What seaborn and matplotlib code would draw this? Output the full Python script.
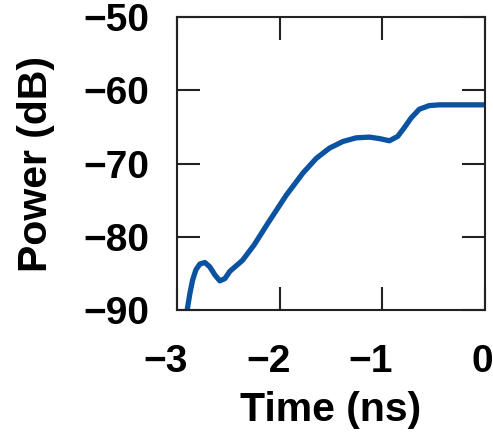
import matplotlib.transforms as mtransforms
import pandas as pd
import seaborn as sns
from matplotlib import pyplot as plt

# values
time_ns = [-2.900, -2.874, -2.848, -2.816, -2.777, -2.728, -2.680, -2.631,
           -2.583, -2.534, -2.485, -2.362, -2.249, -2.113, -1.935, -1.774,
           -1.644, -1.515, -1.385, -1.256, -1.126, -1.029, -0.932, -0.851,
           -0.786, -0.721, -0.641, -0.544, -0.447, -0.300, -0.150, 0.0]
power_db = [-89.9, -87.7, -85.9, -84.5, -83.7, -83.5, -84.1, -85.2,
            -86.0, -85.7, -84.7, -83.2, -81.1, -78.1, -74.3, -71.3,
            -69.3, -67.9, -67.0, -66.5, -66.4, -66.6, -66.9, -66.3,
            -65.1, -63.8, -62.6, -62.1, -62.0, -62.0, -62.0, -62.0]

x_ticks = [-3, -2, -1, 0]
y_ticks = [-90, -80, -70, -60, -50]

sns.set_style("ticks")
plt.rcParams["font.family"] = ["Liberation Sans", "DejaVu Sans"]
plt.rcParams["font.weight"] = "bold"
for key in ["text.color", "axes.labelcolor", "xtick.color", "ytick.color"]:
    plt.rcParams[key] = "black"

df = pd.DataFrame({"t": time_ns, "p": power_db})

fig = plt.figure(figsize=(4.93, 4.32), dpi=100)
ax = fig.add_axes([0.359, 0.282, 0.625, 0.679])
sns.lineplot(data=df, x="t", y="p", color="#0b52a0", linewidth=3.8, ax=ax)

ax.set_xlim(-3, 0)
ax.set_ylim(-90, -50)
ax.set_xticks(x_ticks)
ax.set_yticks(y_ticks)
ax.tick_params(direction="in", length=16.5, width=1.5, top=True, right=True,
               labelsize=28, color="#222222")
ax.tick_params(axis="y", pad=20)
ax.tick_params(axis="x", pad=24)
for lab in ax.get_xticklabels() + ax.get_yticklabels():
    lab.set_fontweight("bold")
# minus signs hang to the left of the tick, digits sit on it
for lab, v in zip(ax.get_xticklabels(), x_ticks):
    dx = -8.2 if v < 0 else -2.0
    lab.set_transform(lab.get_transform() +
                      mtransforms.ScaledTranslation(dx / 72, 0, fig.dpi_scale_trans))
for s in ax.spines.values():
    s.set_linewidth(1.5)
    s.set_color("#222222")

ax.set_xlabel("Time (ns)", fontsize=29.5, fontweight="bold", labelpad=8)
ax.set_ylabel("Power (dB)", fontsize=29.5, fontweight="bold", labelpad=20)

fig.savefig("out.png")
plt.close(fig)
